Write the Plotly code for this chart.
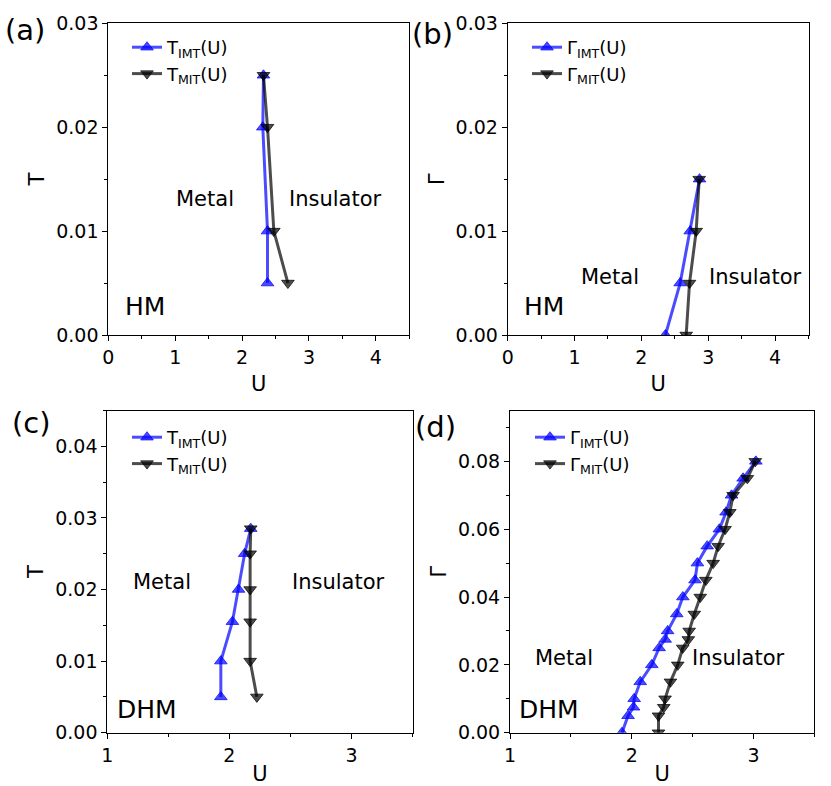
import plotly.graph_objects as go

# panel (a): HM, T vs U
a_imt_u = [2.32, 2.31, 2.38, 2.38]
a_imt_t = [0.025, 0.02, 0.01, 0.005]
a_mit_u = [2.32, 2.38, 2.475, 2.685]
a_mit_t = [0.025, 0.02, 0.01, 0.005]

# panel (b): HM, Gamma vs U
b_imt_u = [2.87, 2.73, 2.58, 2.36]
b_imt_g = [0.015, 0.01, 0.005, 0.0]
b_mit_u = [2.865, 2.82, 2.72, 2.67]
b_mit_g = [0.015, 0.01, 0.005, 0.0]

# panel (c): DHM, T vs U
c_imt_u = [1.93, 1.93, 2.025, 2.075, 2.125, 2.175]
c_imt_t = [0.005, 0.01, 0.0155, 0.02, 0.025, 0.0285]
c_mit_u = [2.175, 2.17, 2.17, 2.17, 2.17, 2.225]
c_mit_t = [0.0285, 0.025, 0.02, 0.0155, 0.01, 0.005]

# panel (d): DHM, Gamma vs U
d_imt_u = [1.92, 1.97, 2.015, 2.02, 2.07, 2.165, 2.225, 2.275, 2.295, 2.37,
           2.42, 2.52, 2.54, 2.62, 2.72, 2.775, 2.82, 2.915, 3.02]
d_imt_g = [0.0, 0.005, 0.0075, 0.01, 0.015, 0.02, 0.025, 0.0275, 0.03, 0.035,
           0.04, 0.045, 0.05, 0.055, 0.06, 0.065, 0.07, 0.075, 0.08]
d_mit_u = [2.22, 2.22, 2.263, 2.274, 2.318, 2.378, 2.419, 2.465, 2.472, 2.514,
           2.563, 2.609, 2.669, 2.71, 2.767, 2.806, 2.833, 2.95, 3.015]
d_mit_g = [0.0, 0.005, 0.0075, 0.01, 0.015, 0.02, 0.025, 0.0275, 0.03, 0.035,
           0.04, 0.045, 0.05, 0.055, 0.06, 0.065, 0.07, 0.075, 0.08]

W, H = 831, 786
FONT = "DejaVu Sans"
BLUE = "rgba(0,0,255,0.7)"
BLACK = "rgba(0,0,0,0.7)"


def px_x(p):
    return p / W


def px_y(p):
    return 1 - p / H


fig = go.Figure()

panels = [
    # axis suffix, legend id, data, symbol name
    ("", "legend", a_imt_u, a_imt_t, a_mit_u, a_mit_t, "T"),
    ("2", "legend2", b_imt_u, b_imt_g, b_mit_u, b_mit_g, "Γ"),
    ("3", "legend3", c_imt_u, c_imt_t, c_mit_u, c_mit_t, "T"),
    ("4", "legend4", d_imt_u, d_imt_g, d_mit_u, d_mit_g, "Γ"),
]

for ax, leg, iu, iv, mu, mv, sym in panels:
    fig.add_trace(go.Scatter(
        x=iu, y=iv, mode="lines+markers", name=f"{sym}<sub>IMT</sub>(U)",
        line=dict(color=BLUE, width=3),
        marker=dict(symbol="triangle-up", size=11, color=BLUE, line=dict(color=BLUE, width=1)),
        xaxis="x" + ax, yaxis="y" + ax, legend=leg,
    ))
    fig.add_trace(go.Scatter(
        x=mu, y=mv, mode="lines+markers", name=f"{sym}<sub>MIT</sub>(U)",
        line=dict(color=BLACK, width=3),
        marker=dict(symbol="triangle-down", size=11, color=BLACK, line=dict(color=BLACK, width=1)),
        xaxis="x" + ax, yaxis="y" + ax, legend=leg,
    ))


def xaxis(domain, rng, anchor):
    return dict(
        domain=domain, range=rng, anchor=anchor, dtick=1, tick0=0,
        ticks="outside", ticklen=5, tickwidth=1, tickcolor="black",
        minor=dict(dtick=0.5, ticks="outside", ticklen=3, tickcolor="black"),
        showline=True, linecolor="black", linewidth=1, mirror=True,
        showgrid=False, zeroline=False, automargin=False,
        tickfont=dict(family=FONT, size=19, color="black"),
        title=dict(text="U", font=dict(family=FONT, size=21, color="black"), standoff=9),
    )


def yaxis(domain, rng, anchor, dtick, minor, title):
    return dict(
        domain=domain, range=rng, anchor=anchor, dtick=dtick, tick0=0,
        tickformat=".2f",
        ticks="outside", ticklen=5, tickwidth=1, tickcolor="black",
        minor=dict(dtick=minor, ticks="outside", ticklen=3, tickcolor="black"),
        showline=True, linecolor="black", linewidth=1, mirror=True,
        showgrid=False, zeroline=False, automargin=False,
        tickfont=dict(family=FONT, size=19, color="black"),
        title=dict(text=title, font=dict(family=FONT, size=21, color="black"), standoff=5),
    )


top_row = [px_y(335), px_y(23.3)]
bot_row = [px_y(732.7), px_y(410.5)]

legend_style = dict(
    bgcolor="rgba(0,0,0,0)", borderwidth=0, xanchor="left", yanchor="top",
    font=dict(family=FONT, size=18, color="black"),
)

fig.update_layout(
    width=W, height=H,
    margin=dict(l=0, r=0, t=0, b=0),
    paper_bgcolor="white", plot_bgcolor="white",
    font=dict(family=FONT, color="black"),
    xaxis=xaxis([px_x(108.3), px_x(409.3)], [0, 4.5], "y"),
    yaxis=yaxis(top_row, [0, 0.03], "x", 0.01, 0.005, "T"),
    xaxis2=xaxis([px_x(507.7), px_x(808.5)], [0, 4.5], "y2"),
    yaxis2=yaxis(top_row, [0, 0.03], "x2", 0.01, 0.005, "Γ"),
    xaxis3=xaxis([px_x(107.3), px_x(412.5)], [1, 3.5], "y3"),
    yaxis3=yaxis(bot_row, [0, 0.045], "x3", 0.01, 0.005, "T"),
    xaxis4=xaxis([px_x(510), px_x(814.3)], [1, 3.5], "y4"),
    yaxis4=yaxis(bot_row, [0, 0.095], "x4", 0.02, 0.01, "Γ"),
    legend=dict(x=px_x(127), y=px_y(29), **legend_style),
    legend2=dict(x=px_x(527), y=px_y(29), **legend_style),
    legend3=dict(x=px_x(127), y=px_y(419), **legend_style),
    legend4=dict(x=px_x(530), y=px_y(419), **legend_style),
)

# region labels inside each panel
region_text = [
    ("x", "y", "Metal", 1.44, 0.0131),
    ("x", "y", "Insulator", 3.40, 0.0131),
    ("x2", "y2", "Metal", 1.53, 0.0056),
    ("x2", "y2", "Insulator", 3.70, 0.0056),
    ("x3", "y3", "Metal", 1.45, 0.021),
    ("x3", "y3", "Insulator", 2.89, 0.021),
    ("x4", "y4", "Metal", 1.44, 0.022),
    ("x4", "y4", "Insulator", 2.88, 0.022),
]
for xr, yr, txt, xv, yv in region_text:
    fig.add_annotation(x=xv, y=yv, xref=xr, yref=yr, text=txt, showarrow=False,
                       xanchor="center", yanchor="middle",
                       font=dict(family=FONT, size=21, color="black"))

model_text = [
    ("x", "y", "HM", 0.215, 0.0027),
    ("x2", "y2", "HM", 0.21, 0.0027),
    ("x3", "y3", "DHM", 1.063, 0.0032),
    ("x4", "y4", "DHM", 1.06, 0.0067),
]
for xr, yr, txt, xv, yv in model_text:
    fig.add_annotation(x=xv, y=yv, xref=xr, yref=yr, text=txt, showarrow=False,
                       xanchor="left", yanchor="middle",
                       font=dict(family=FONT, size=25, color="black"))

# panel letters
panel_labels = [("(a)", 24.5, 30), ("(b)", 432.5, 34), ("(c)", 31, 423), ("(d)", 435, 427)]
for txt, px, py in panel_labels:
    fig.add_annotation(x=px_x(px), y=px_y(py), xref="paper", yref="paper", text=txt,
                       showarrow=False, xanchor="center", yanchor="middle",
                       font=dict(family=FONT, size=29, color="black"))

# page body has an 8px default margin, drop it so the figure fills the window
fig.write_html("out.html", config={"displayModeBar": False},
               post_script="document.body.style.margin = '0px';")
